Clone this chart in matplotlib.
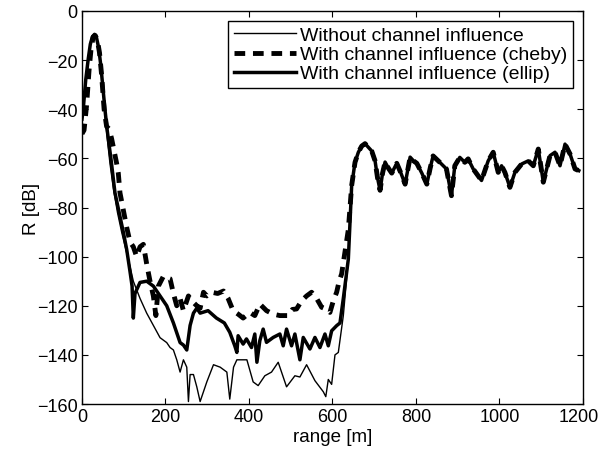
import matplotlib
matplotlib.use("Agg")
import matplotlib.pyplot as plt
import matplotlib.transforms as mtransforms
import numpy as np

plt.rcParams['font.family'] = ['Liberation Sans', 'DejaVu Sans']

# shared tail (all three curves coincide beyond ~640 m)
x_tail = [646, 654, 662, 670, 678, 686, 694, 702, 708, 714, 720, 726, 734, 742, 754,
          764, 774, 786, 794, 802, 814, 826, 834, 841, 857, 873, 885, 893, 905, 917,
          925, 937, 957, 973, 985, 997, 1005, 1013, 1025, 1037, 1053, 1069, 1081, 1093,
          1105, 1121, 1133, 1145, 1157, 1169, 1181, 1190]
r_tail = [-71, -61.6, -57.5, -55, -54, -55.5, -57, -61, -68, -73, -66, -61.5, -64, -66, -62,
          -66, -70.5, -59.5, -61, -62, -66, -70.5, -64, -59, -61.6, -64.3, -75.2, -63, -59.6,
          -61.6, -60.2, -64.3, -69, -61, -57.5, -65.7, -63, -65.7, -71.8, -65.7, -62.3, -61,
          -63, -56.2, -69.7, -58.9, -57.5, -63, -54.2, -58.2, -64.3, -65]

# without channel influence
x_none = [0, 5, 10, 15, 20, 25, 30, 35, 40, 45, 50, 55, 60, 67, 75, 85, 95, 105, 115, 123,
          139, 155, 171, 187, 203, 211, 219, 227, 235, 243, 251, 255, 259, 267, 275, 283,
          291, 299, 315, 331, 347, 354, 363, 371, 395, 410, 422, 438, 454, 470, 490, 510,
          522, 538, 558, 578, 584, 590, 598, 606, 614, 626, 638]
r_none = [-42, -35, -27, -19.5, -13.5, -10.5, -9.5, -11, -15, -22, -32, -42, -51, -62, -72,
          -82, -90, -97, -104, -110, -117, -123, -128, -133, -135, -137, -138, -142, -147,
          -142, -145, -159, -148, -148, -153, -159, -155, -151, -144, -145, -147, -158,
          -145, -142, -142, -151, -152.5, -148.5, -147, -143, -153, -148.5, -149, -144,
          -150.5, -155, -157, -150, -152, -140, -139, -124, -101]

# with channel influence (cheby)
x_cheby = [0, 5, 11, 17, 22, 27, 32, 37, 42, 47, 53, 59, 65, 71, 77, 83, 87, 91, 99, 107,
           115, 123, 131, 139, 147, 155, 163, 171, 177, 183, 195, 211, 219, 227, 235, 243,
           255, 263, 275, 283, 291, 299, 311, 325, 339, 350, 362, 374, 386, 402, 414, 426,
           442, 458, 474, 494, 504, 514, 526, 538, 550, 562, 574, 586, 594, 602, 610, 616,
           622, 630, 638]
r_cheby = [-50, -48.5, -38.5, -24, -15, -10.5, -10, -12, -17, -26, -40, -47, -48, -52, -57,
           -62, -66, -74, -81, -88, -94, -96, -100, -96, -95, -103, -110, -116, -124, -112,
           -108, -109, -115, -120, -117, -122, -116, -118, -120, -121, -114.5, -116, -114.5,
           -115, -114, -117, -122, -123.4, -125, -122.7, -124, -119.3, -122, -123.4, -124,
           -124, -121.5, -121.3, -118, -116, -114.5, -117, -120.6, -121.5, -122.7, -118,
           -114.5, -110, -107, -98, -89]

# with channel influence (ellip)
x_ellip = [0, 3, 9, 15, 20, 25, 30, 35, 40, 45, 50, 55, 60, 70, 79, 89, 99, 107, 115, 120,
           123, 127, 139, 155, 171, 187, 203, 219, 227, 235, 243, 251, 259, 267, 275, 283,
           302, 322, 341, 354, 366, 371, 374, 386, 394, 406, 414, 419, 426, 434, 442, 458,
           474, 482, 490, 502, 510, 522, 530, 546, 558, 570, 582, 590, 598, 610, 618, 626,
           638]
r_ellip = [-44, -40, -28, -19.5, -13.5, -10.5, -9.5, -11, -15, -22, -31, -40, -48, -61, -74,
           -82, -90, -97, -106, -112, -125, -115, -110.5, -110, -112, -116, -120, -127, -131,
           -135, -136, -138, -128, -123, -121, -123, -122, -125, -127, -130.8, -136.3, -139,
           -132.2, -135.6, -133.5, -137, -131.5, -143, -134.2, -129.5, -134.9, -132.9,
           -131.5, -136.3, -129.5, -136.3, -131.5, -142, -132.9, -137.6, -132.9, -137,
           -131.5, -136.3, -130.2, -128.1, -127, -117, -101]

series = [
    ("Without channel influence", x_none, r_none, dict(color='k', lw=1.0, ls='-')),
    ("With channel influence (cheby)", x_cheby, r_cheby, dict(color='k', lw=3.5, ls=(0, (2.2, 1.6)))),
    ("With channel influence (ellip)", x_ellip, r_ellip, dict(color='k', lw=2.5, ls='-')),
]

fig = plt.figure(figsize=(6.01, 4.56), dpi=100)
ax = fig.add_axes([0.1364, 0.1118, 0.8336, 0.8619])

for label, xs, rs, style in series:
    ax.plot(np.array(xs + x_tail), np.array(rs + r_tail), label=label, **style)

ax.set_xlim(0, 1200)
ax.set_ylim(-160, 0)
ax.set_xticks(np.arange(0, 1201, 200))
ax.set_yticks(np.arange(-160, 1, 20))
ax.tick_params(direction='in', top=True, right=True, labelsize=13, length=4, pad=3)
ax.set_xlabel('range [m]', fontsize=13.5, labelpad=2)
ax.set_ylabel('R [dB]', fontsize=13.5, labelpad=-2)
for s in ax.spines.values():
    s.set_linewidth(1.0)

# keep the last x tick label inside the canvas
last = ax.get_xticklabels()[-1]
last.set_transform(last.get_transform() + mtransforms.ScaledTranslation(-4 / 100, 0, fig.dpi_scale_trans))

leg = ax.legend(loc='upper right', fontsize=14, fancybox=False, edgecolor='k',
                framealpha=1, handlelength=3.2, borderpad=0.3, labelspacing=0.08,
                handletextpad=0.2, borderaxespad=0.5)
leg.get_frame().set_linewidth(1.0)

fig.savefig('out.png', dpi=100)
